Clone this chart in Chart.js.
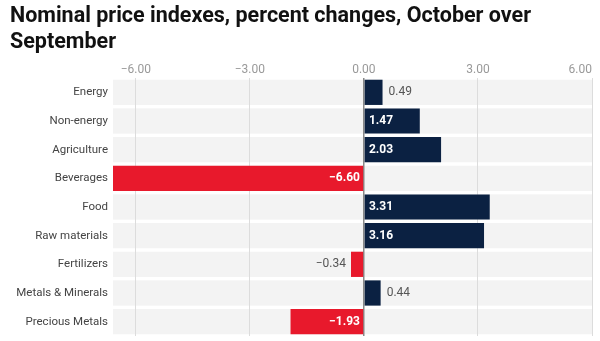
<!DOCTYPE html>
<html>
  <head>
    <title>Nominal price indexes</title>
    <meta charset="utf-8">
    <style>
      body { margin: 0; background: #fff; }
      #wrap { width: 600px; height: 341px; }
    </style>
  </head>
  <body>
    <div id="wrap">
      <canvas id="priceChart"></canvas>
    </div>

    <script src="https://cdn.jsdelivr.net/npm/chart.js"></script>
    <script>
      var categories = ['Energy', 'Non-energy', 'Agriculture', 'Beverages', 'Food',
        'Raw materials', 'Fertilizers', 'Metals & Minerals', 'Precious Metals'];
      var changes = [0.49, 1.47, 2.03, -6.60, 3.31, 3.16, -0.34, 0.44, -1.93];
      var tickValues = [-6, -3, 0, 3, 6];

      var X_MIN = -6.6;
      var NAVY = '#0b2142';
      var RED = '#e8192c';

      function fmt(v) {
        var s = Math.abs(v).toFixed(2);
        return v < 0 ? '\u2212' + s : s;
      }

      // grey band behind each row, drawn before the grid so grid lines sit on top
      var rowBands = {
        id: 'rowBands',
        beforeDraw: function (chart) {
          var ctx = chart.ctx, area = chart.chartArea;
          var meta = chart.getDatasetMeta(0);
          ctx.save();
          ctx.fillStyle = '#f3f3f3';
          meta.data.forEach(function (bar) {
            var h = bar.height;
            ctx.fillRect(area.left, bar.y - h / 2, area.right - area.left, h);
          });
          ctx.restore();
        }
      };

      // value labels: inside the bar when it is wide enough, otherwise beside it
      var valueLabels = {
        id: 'valueLabels',
        afterDatasetsDraw: function (chart) {
          var ctx = chart.ctx;
          var x0 = chart.scales.x.getPixelForValue(0);
          var meta = chart.getDatasetMeta(0);
          ctx.save();
          ctx.textBaseline = 'middle';
          meta.data.forEach(function (bar, i) {
            var v = changes[i];
            if (Math.abs(v) > 1) {
              ctx.font = 'bold 12px Roboto';
              ctx.fillStyle = '#fff';
              if (v > 0) { ctx.textAlign = 'left'; ctx.fillText(fmt(v), x0 + 5, bar.y); }
              else { ctx.textAlign = 'right'; ctx.fillText(fmt(v), x0 - 4, bar.y); }
            } else {
              ctx.font = '12px Roboto';
              ctx.fillStyle = '#555';
              if (v > 0) { ctx.textAlign = 'left'; ctx.fillText(fmt(v), bar.x + 6, bar.y); }
              else { ctx.textAlign = 'right'; ctx.fillText(fmt(v), bar.x - 5, bar.y); }
            }
          });
          ctx.restore();
        }
      };

      var config = {
        type: 'bar',
        data: {
          labels: categories,
          datasets: [{
            data: changes,
            backgroundColor: changes.map(function (v) { return v < 0 ? RED : NAVY; }),
            barPercentage: 1,
            categoryPercentage: 0.88
          }]
        },
        options: {
          indexAxis: 'y',
          responsive: true,
          maintainAspectRatio: false,
          animation: false,
          layout: {
            padding: { left: 10, right: 8, top: 4, bottom: 5 }
          },
          scales: {
            x: {
              position: 'top',
              min: X_MIN,
              max: 6,
              // an unlabelled tick at the left edge lets 'inner' alignment pull only the last label in
              afterBuildTicks: function (scale) {
                scale.ticks = [{ value: X_MIN }].concat(tickValues.map(function (v) { return { value: v }; }));
              },
              ticks: {
                color: '#999',
                font: { family: 'Roboto', size: 12 },
                padding: 1,
                align: 'inner',
                maxRotation: 0,
                autoSkip: false,
                callback: function (v) { return v === X_MIN ? '' : fmt(v); }
              },
              grid: {
                drawTicks: false,
                color: function (c) {
                  if (!c.tick || c.tick.value === X_MIN) return 'rgba(0,0,0,0)';
                  return c.tick.value === 0 ? '#888' : '#dcdcdc';
                },
                lineWidth: function (c) { return c.tick && c.tick.value === 0 ? 1.5 : 1; }
              },
              border: { display: false }
            },
            y: {
              afterFit: function (scale) {
                scale.width = 103;
                scale.paddingTop = 0;
                scale.paddingBottom = 0;
              },
              ticks: {
                color: '#444',
                font: { family: 'Roboto', size: 11.5 },
                padding: 5
              },
              grid: { display: false, drawTicks: false },
              border: { display: false }
            }
          },
          plugins: {
            legend: { display: false },
            tooltip: { enabled: false },
            title: {
              display: true,
              text: ['Nominal price indexes, percent changes, October over', 'September'],
              align: 'start',
              color: '#111',
              font: { family: 'Roboto', size: 21.5, weight: 'bold', lineHeight: 1.2 },
              padding: { top: 0, bottom: 6 }
            }
          }
        },
        plugins: [rowBands, valueLabels]
      };

      var priceChart = new Chart(document.getElementById('priceChart'), config);
    </script>
  </body>
</html>
